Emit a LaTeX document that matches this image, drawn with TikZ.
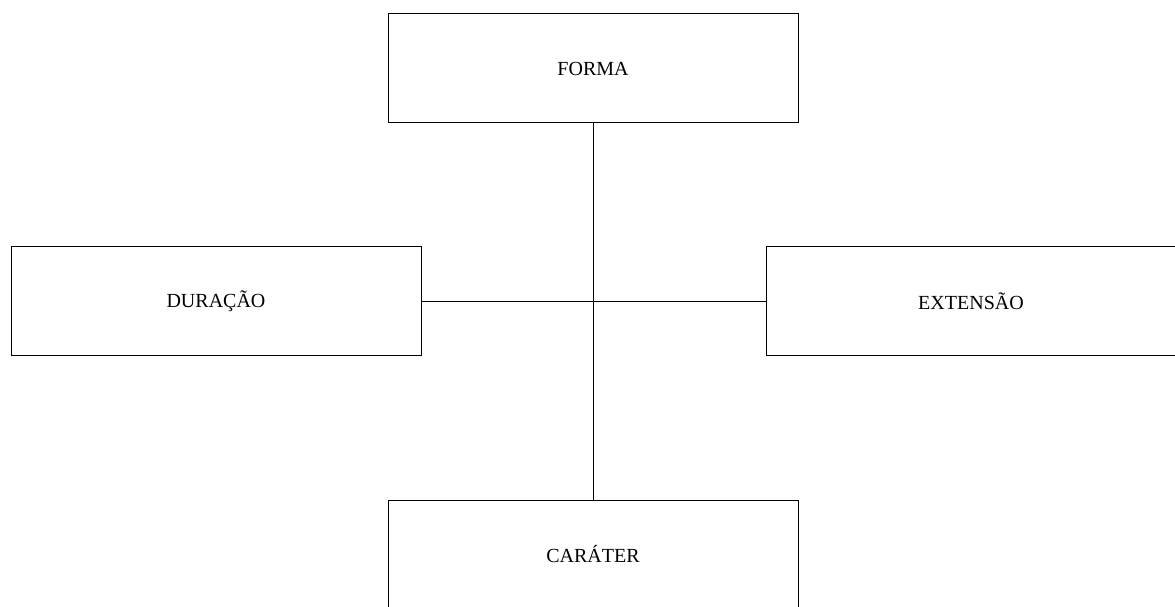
\documentclass[tikz,border=0pt]{standalone}
\usepackage{fontspec}
\setmainfont{Liberation Serif}
\begin{document}
\begin{tikzpicture}[x=1pt,y=1pt,
  box/.style={draw=black, line width=1pt, minimum width=410pt, minimum height=109pt, inner sep=0pt, font=\fontsize{20}{24}\selectfont},
  conn/.style={draw=black, line width=1pt}]
\useasboundingbox (0,0) rectangle (1175,606);
\clip (0,0) rectangle (1175,606);
\node[box] (forma) at (593,537.5) {FORMA};
\node[box] (duracao) at (216,305) {DURAÇÃO};
\node[box] (extensao) at (971,305) {EXTENSÃO};
\node[box] (carater) at (593,51.5) {CARÁTER};
\draw[conn] (forma.south) -- (carater.north);
\draw[conn] (duracao.east) -- (extensao.west);
\end{tikzpicture}
\end{document}
